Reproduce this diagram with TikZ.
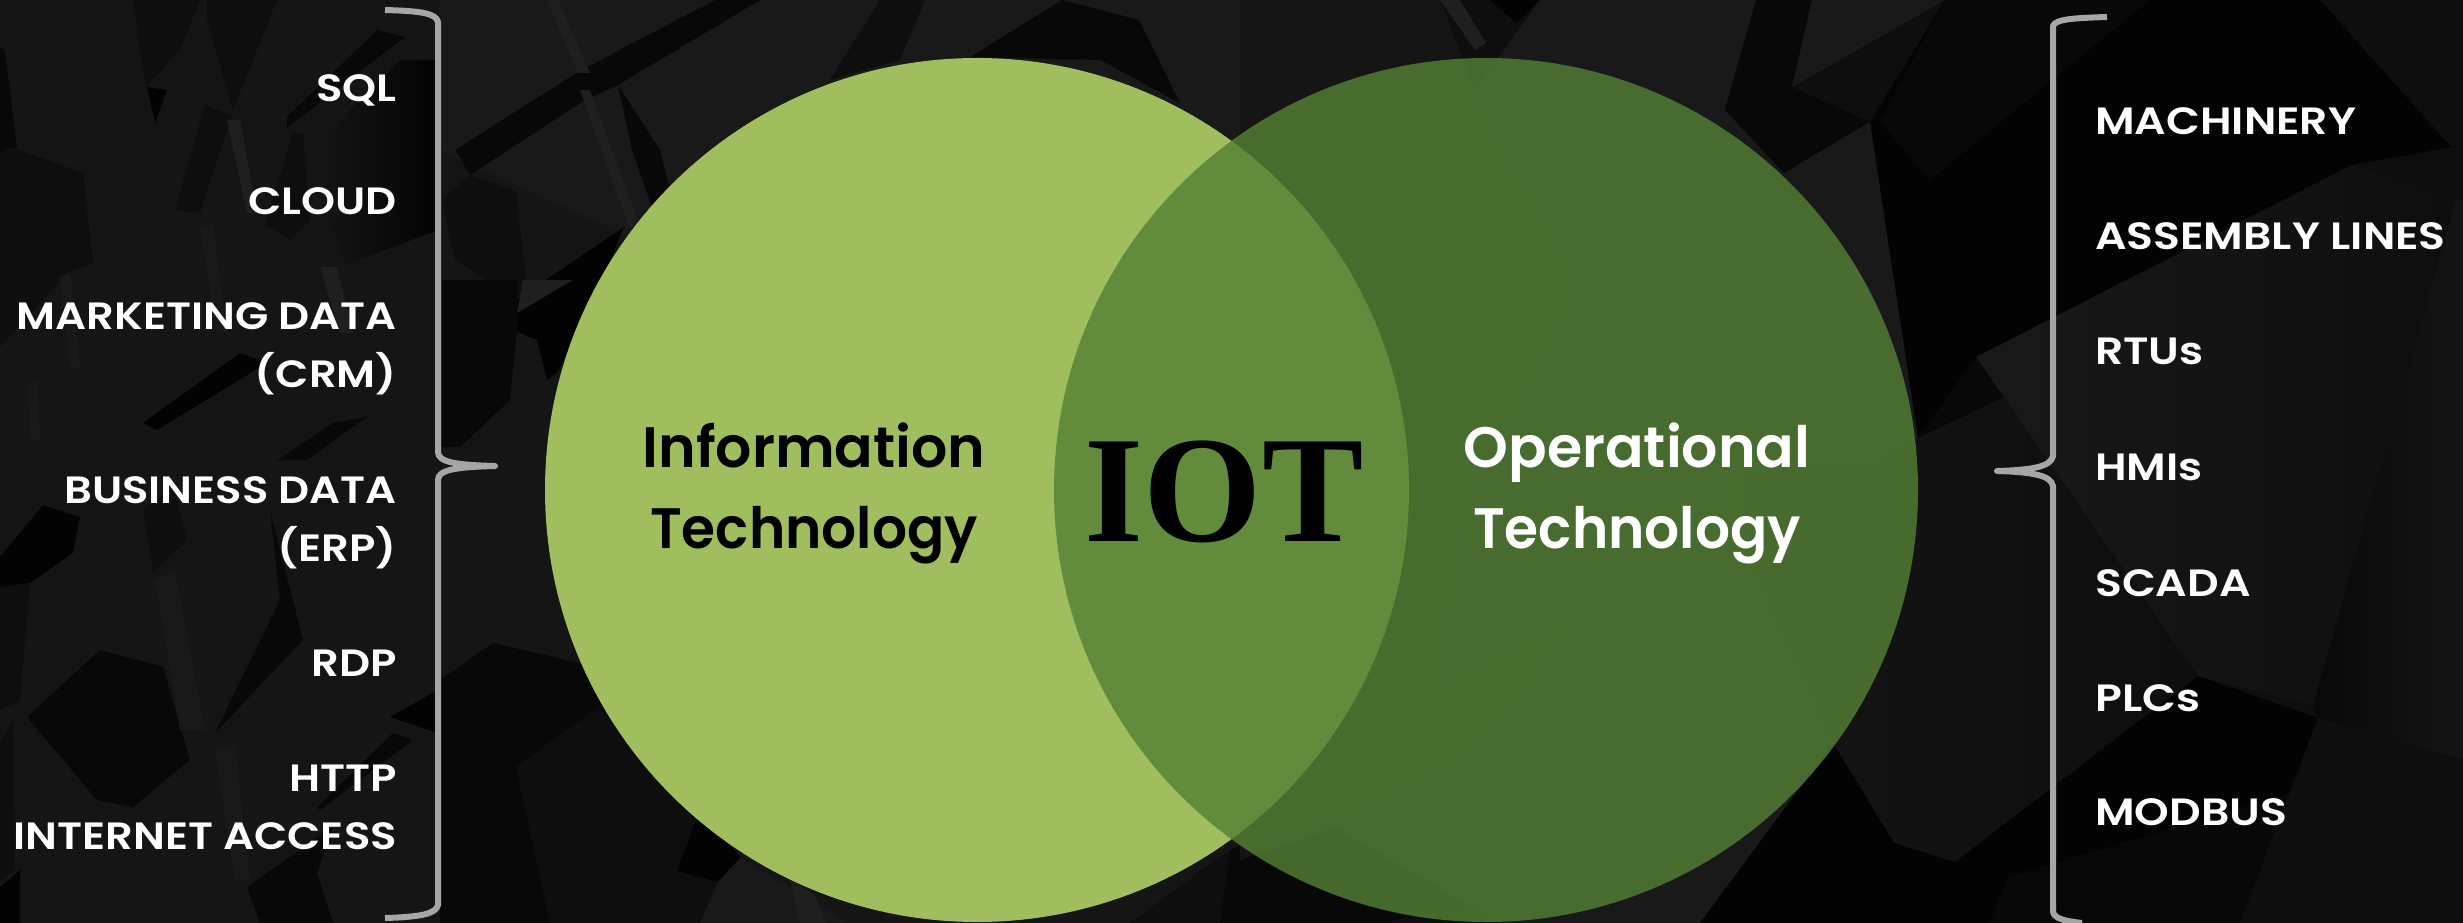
\documentclass[tikz,border=0pt]{standalone}
\usepackage{fontspec}
\setmainfont{Poppins}
\newfontfamily\leftf[FakeStretch=1.14]{Poppins SemiBold}
\newfontfamily\rightf[FakeStretch=1.16]{Poppins SemiBold}
\newfontfamily\headf{Poppins SemiBold}
\newfontfamily\techf[FakeStretch=0.965]{Poppins SemiBold}
\newfontfamily\iotf{Liberation Serif}
\definecolor{leftgreen}{HTML}{A1BE5E}
\definecolor{rightgreen}{HTML}{548035}
\definecolor{bracegray}{HTML}{A6A6A6}
\definecolor{fa}{HTML}{191919}
\definecolor{fb}{HTML}{151515}
\definecolor{fc}{HTML}{0E0E0E}
\definecolor{fd}{HTML}{080808}
\definecolor{ff}{HTML}{030303}
\definecolor{fe}{HTML}{1F1F1F}
\tikzset{
  leftlabel/.style={anchor=east,inner sep=0pt,align=right,text=white,text height=27pt,text depth=0pt,font=\leftf\fontsize{38}{58}\selectfont},
  rightlabel/.style={anchor=west,inner sep=0pt,align=left,text=white,text height=27pt,text depth=0pt,font=\rightf\fontsize{38}{58}\selectfont},
  headlabel/.style={inner sep=0pt,align=center,text height=41pt,text depth=0pt,font=\headf\fontsize{57}{81}\selectfont},
  bracket/.style={draw=bracegray,line width=6pt,line join=round}
}
\begin{document}
\begin{tikzpicture}[x=1pt,y=-1pt]
\useasboundingbox (0,0) rectangle (2463,923);
\fill[fb] (0,0) rectangle (1240,923);
\fill[fc] (1240,0) rectangle (2463,923);
% left zone, dark facets
\fill[fd] (377,30) -- (405,37) -- (287,128) -- (287,117) -- cycle;
\fill[fc] (205,105) -- (232,115) -- (200,213) -- (175,210) -- cycle;
\fill[fc] (293,133) -- (303,133) -- (310,220) -- (290,240) -- (265,225) -- cycle;
\shade[left color=fb,right color=ff] (330,130) -- (400,60) -- (438,60) -- (438,230) -- (345,265) -- (320,190) -- cycle;
\fill[fc] (133,0) -- (200,0) -- (180,50) -- (147,85) -- (143,73) -- cycle;
\fill[ff] (147,87) -- (167,90) -- (155,123) -- cycle;
\fill[fc] (207,0) -- (277,0) -- (233,110) -- (207,20) -- cycle;
\fill[fd] (0,47) -- (5,50) -- (17,147) -- (0,153) -- cycle;
\fill[fc] (0,153) -- (10,147) -- (83,173) -- (93,263) -- (67,273) -- (0,347) -- cycle;
\fill[ff] (240,353) -- (267,363) -- (157,430) -- (143,423) -- cycle;
\fill[fd] (333,423) -- (367,417) -- (307,460) -- (277,460) -- cycle;
\fill[fe] (227,120) -- (240,120) -- (257,213) -- (247,213) -- cycle;
\fill[fe] (320,267) -- (337,267) -- (353,333) -- (340,333) -- cycle;
\fill[fa] (200,227) -- (213,223) -- (227,333) -- (217,333) -- cycle;
\fill[fa] (60,277) -- (70,273) -- (80,367) -- (70,367) -- cycle;
\fill[fa] (28,383) -- (37,380) -- (40,440) -- (30,440) -- cycle;
\fill[ff] (0,557) -- (43,505) -- (80,517) -- (73,553) -- (30,583) -- (0,587) -- cycle;
\fill[fc] (0,587) -- (30,583) -- (20,700) -- (0,710) -- cycle;
\fill[fd] (100,650) -- (163,667) -- (190,760) -- (133,807) -- (97,800) -- (27,717) -- cycle;
\fill[fc] (173,487) -- (187,540) -- (153,573) -- (143,510) -- cycle;
\fill[fd] (270,510) -- (303,640) -- (215,733) -- (280,600) -- cycle;
\fill[fd] (247,887) -- (333,827) -- (317,873) -- (333,923) -- (260,923) -- cycle;
\fill[fd] (393,733) -- (413,740) -- (320,810) -- (317,807) -- cycle;
\fill[ff] (390,717) -- (438,690) -- (438,733) -- cycle;
\fill[fc] (0,743) -- (13,720) -- (15,870) -- (0,880) -- cycle;
\fill[ff] (0,887) -- (20,870) -- (20,923) -- (0,923) -- cycle;
\fill[fa] (155,580) -- (175,570) -- (205,730) -- (180,730) -- cycle;
\fill[fa] (215,750) -- (235,745) -- (250,880) -- (235,880) -- cycle;
% inner-left zone
\fill[fa] (440,0) -- (1240,0) -- (1240,140) -- (680,260) -- (440,150) -- cycle;
\fill[fd] (715,0) -- (760,0) -- (618,85) -- (585,100) -- (470,175) -- (455,150) -- (578,72) -- cycle;
\fill[fd] (618,85) -- (660,150) -- (680,230) -- (660,230) -- (632,150) -- cycle;
\fill[fe] (547,0) -- (558,0) -- (590,73) -- (578,73) -- cycle;
\fill[fe] (580,90) -- (590,90) -- (640,227) -- (629,227) -- cycle;
\fill[fc] (470,175) -- (516,190) -- (528,300) -- (516,300) -- (455,260) -- (442,200) -- cycle;
\fill[ff] (624,227) -- (516,300) -- (513,330) -- (537,340) -- (547,380) -- (557,373) -- (598,290) -- cycle;
\fill[fd] (442,280) -- (517,280) -- (517,330) -- (510,400) -- (460,447) -- (442,447) -- cycle;
\fill[fe] (517,313) -- (523,280) -- (573,280) -- cycle;
\fill[fd] (970,57) -- (1062,0) -- (1139,20) -- (1180,103) -- (1100,60) -- cycle;
\fill[fc] (900,60) -- (925,0) -- (880,0) -- (830,80) -- cycle;
\fill[fd] (493,643) -- (580,663) -- (605,710) -- (620,923) -- (440,923) -- (440,680) -- cycle;
\fill[fc] (516,767) -- (598,707) -- (700,790) -- (740,923) -- (550,923) -- cycle;
\fill[ff] (677,871) -- (718,882) -- (741,857) -- (700,810) -- cycle;
\fill[fa] (741,857) -- (848,923) -- (700,923) -- (718,882) -- cycle;
\fill[fe] (790,880) -- (815,895) -- (825,923) -- (800,923) -- cycle;
\fill[fc] (848,923) -- (1130,923) -- (1230,850) -- (1400,780) -- (1240,923) -- cycle;
\fill[fd] (1230,850) -- (1220,923) -- (1380,923) -- (1500,900) -- (1400,780) -- cycle;
% zone behind the right circle
\fill[fb] (1240,0) -- (1440,0) -- (1475,90) -- (1590,288) -- (1478,757) -- (1335,827) -- (1240,860) -- cycle;
\fill[fe] (1440,0) -- (1460,0) -- (1486,43) -- (1475,50) -- cycle;
\fill[ff] (1490,0) -- (1540,0) -- (1516,23) -- cycle;
\fill[fa] (1540,0) -- (1756,0) -- (1725,110) -- (1784,173) -- (1590,288) -- (1475,90) -- cycle;
\fill[fd] (1756,0) -- (1812,0) -- (1792,87) -- (1870,122) -- (1784,173) -- (1725,110) -- cycle;
\fill[fa] (1812,0) -- (1945,0) -- (1792,87) -- cycle;
\fill[fa] (1590,288) -- (1784,173) -- (1870,122) -- (1925,300) -- (1920,440) -- (1873,463) -- (1442,677) -- (1478,500) -- cycle;
\fill[fb] (1442,677) -- (1873,463) -- (1960,640) -- (1894,843) -- (1833,743) -- (1710,477) -- (1478,757) -- cycle;
\fill[fa] (1478,757) -- (1710,477) -- (1833,743) -- (1894,843) -- (1807,923) -- (1500,923) -- (1335,827) -- cycle;
% right zone
\shade[left color=fb,right color=fc] (1710,477) -- (1873,463) -- (1918,438) -- (2004,397) -- (2198,676) -- (1955,862) -- (1894,843) -- (1833,743) -- cycle;
\fill[ff] (1833,743) -- (1894,843) -- (1955,862) -- (1807,923) -- (1700,923) -- cycle;
\fill[ff] (1955,862) -- (2198,676) -- (2318,718) -- (2240,923) -- (1807,923) -- cycle;
\fill[fd] (2008,877) -- (2300,790) -- (2240,923) -- (1990,923) -- cycle;
\fill[ff] (1870,122) -- (1945,0) -- (2320,0) -- (2453,147) -- (2352,165) -- (1976,357) -- (1918,438) -- cycle;
\fill[fd] (1918,438) -- (2004,397) -- (1976,357) -- cycle;
\fill[fd] (1945,0) -- (2150,0) -- (1930,180) -- (1880,122) -- cycle;
\fill[fc] (2320,0) -- (2463,0) -- (2463,160) -- cycle;
\shade[left color=fa,right color=fc] (1976,357) -- (2352,165) -- (2456,200) -- (2313,706) -- (2198,676) -- cycle;
\shade[left color=fd,right color=fb] (2456,200) -- (2463,200) -- (2463,760) -- (2318,718) -- (2313,706) -- cycle;
\fill[fc] (2318,718) -- (2463,850) -- (2463,923) -- (2240,923) -- cycle;
% circles
\node[circle,fill=leftgreen,minimum size=864pt,inner sep=0pt] (it) at (977,490) {};
\node[circle,fill=rightgreen,fill opacity=0.81,minimum size=864pt,inner sep=0pt] (ot) at (1486,490) {};
% braces
\draw[bracket] (385,10) .. controls (420,11) and (436,13) .. (438,22) -- (438,452) .. controls (438,462) and (455,465) .. (495,466) .. controls (455,467) and (438,470) .. (438,480) -- (438,905) .. controls (436,914) and (420,917) .. (385,918);
\draw[bracket] (2107,17) .. controls (2075,18) and (2055,19) .. (2053,26) -- (2053,456) .. controls (2051,466) and (2035,470) .. (1997,471) .. controls (2035,472) and (2051,476) .. (2053,486) -- (2053,912) .. controls (2055,919) and (2065,921) .. (2082,923);
% texts
\node[leftlabel] (sql) at (397,88) {SQL};
\node[leftlabel] (cloud) at (397,201) {CLOUD};
\node[leftlabel] (crm) at (397,374) {MARKETING DATA\\(CRM)};
\node[leftlabel] (erp) at (397,548) {BUSINESS DATA\\(ERP)};
\node[leftlabel] (rdp) at (397,663) {RDP};
\node[leftlabel] (http) at (397,836) {HTTP\\INTERNET ACCESS};
\node[rightlabel] (mach) at (2095,121) {MACHINERY};
\node[rightlabel] (asm) at (2095,236) {ASSEMBLY LINES};
\node[rightlabel] (rtu) at (2095,351) {RTUs};
\node[rightlabel] (hmi) at (2095,467) {HMIs};
\node[rightlabel] (scada) at (2095,583) {SCADA};
\node[rightlabel] (plc) at (2095,698) {PLCs};
\node[rightlabel] (modbus) at (2095,812) {MODBUS};
\node[headlabel,text=black] (ittext) at (814,528) {Information\\{\techf Technology}};
\node[headlabel,text=white] (ottext) at (1637,528) {Operational\\{\techf Technology}};
\node[inner sep=0pt,font=\iotf\bfseries\fontsize{152}{152}\selectfont,text=black] (iot) at (1224,492) {IOT};
\end{tikzpicture}
\end{document}
